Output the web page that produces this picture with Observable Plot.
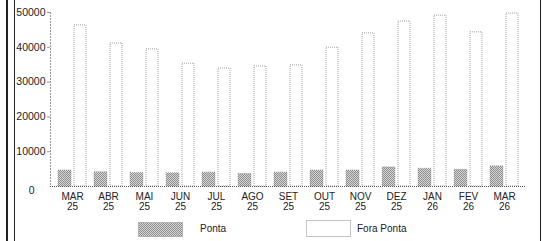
<!DOCTYPE html>
<html><head><meta charset="utf-8">
<script src="https://cdn.jsdelivr.net/npm/d3@7"></script>
<script src="https://cdn.jsdelivr.net/npm/@observablehq/plot@0.6"></script>
<style>
body{margin:0;background:#fff;font-family:"Liberation Sans",Arial,sans-serif;}
#wrap{position:relative;width:543px;height:241px;overflow:hidden;}
#chart{position:absolute;left:0;top:0;}
.edge{position:absolute;top:0;bottom:0;background:#222;}
#legend{position:absolute;left:0;top:215px;width:543px;height:26px;font-size:10px;color:#222;}
#legend .sw{position:absolute;}
#legend .lb{position:absolute;line-height:12px;}
</style></head><body>
<div id="wrap"><div id="chart"></div><div id="legend"></div>
<div class="edge" style="left:6px;width:2px"></div>
<div class="edge" style="left:14px;width:1px"></div>
<div class="edge" style="left:540px;width:1px"></div>
</div>
<script>
const months = ["MAR 25","ABR 25","MAI 25","JUN 25","JUL 25","AGO 25","SET 25","OUT 25","NOV 25","DEZ 25","JAN 26","FEV 26","MAR 26"];
const ponta = [4600, 4100, 3900, 3800, 4000, 3600, 4000, 4600, 4600, 5500, 5100, 4800, 5800];
const foraPonta = [46300, 41100, 39400, 35300, 33900, 34500, 34800, 39900, 44000, 47400, 49100, 44300, 49700];
const yTicks = [10000, 20000, 30000, 40000, 50000];
const seriesNames = ["Ponta", "Fora Ponta"];

const pontaData = months.map((m, i) => ({month: m, value: ponta[i]}));
const foraData = months.map((m, i) => ({month: m, value: foraPonta[i]}));

const svg = Plot.plot({
  width: 543, height: 215,
  marginLeft: 50, marginRight: 18, marginTop: 12, marginBottom: 29,
  style: {fontFamily: '"Liberation Sans", Arial, sans-serif', color: "#222", background: "transparent"},
  x: {type: "band", domain: months, paddingInner: 0.23, paddingOuter: 0.137, label: null},
  y: {domain: [0, 50000], label: null},
  marks: [
    Plot.frame({anchor: "left", stroke: "#999", strokeDasharray: "1,2"}),
    Plot.barY(foraData, {x: "month", y: "value", insetLeft: 16, fill: "#fff", stroke: "#888", strokeWidth: 0.8, strokeDasharray: "1,1"}),
    Plot.barY(pontaData, {x: "month", y: "value", insetRight: 15, fill: "url(#pontaPat)", stroke: "#888", strokeWidth: 0.6, strokeDasharray: "1,1"}),
    Plot.ruleY([0], {stroke: "#555", strokeDasharray: "1,1"}),
    Plot.axisY({ticks: yTicks, tickSize: 3, tickPadding: 2, fontSize: 10.5, stroke: "#999", tickFormat: d => String(d)}),
    Plot.text([0], {y: d => d, frameAnchor: "left", text: d => String(d), dx: -16, dy: 4, textAnchor: "end", fontSize: 10.5, fill: "#222"}),
    Plot.axisX({tickSize: 0, tickPadding: 6, fontSize: 10, lineHeight: 1.0, tickFormat: d => d.replace(" ", "\n")})
  ]
});
const ns = "http://www.w3.org/2000/svg";
const defs = document.createElementNS(ns, "defs");
defs.innerHTML = '<pattern id="pontaPat" width="2" height="2" patternUnits="userSpaceOnUse"><rect width="2" height="2" fill="#d6d6d6"/><rect width="1" height="1" fill="#8e8e8e"/><rect x="1" y="1" width="1" height="1" fill="#8e8e8e"/></pattern>';
svg.prepend(defs);
document.getElementById("chart").appendChild(svg);

const legend = document.getElementById("legend");
const swatch = (left, top, w, h, isPonta) => {
  const s = document.createElementNS(ns, "svg");
  s.setAttribute("width", w); s.setAttribute("height", h);
  s.setAttribute("class", "sw");
  s.style.left = left + "px"; s.style.top = top + "px";
  s.innerHTML = isPonta
    ? '<defs><pattern id="legPat" width="2" height="2" patternUnits="userSpaceOnUse"><rect width="2" height="2" fill="#d6d6d6"/><rect width="1" height="1" fill="#8e8e8e"/><rect x="1" y="1" width="1" height="1" fill="#8e8e8e"/></pattern></defs><rect x="0.5" y="0.5" width="' + (w-1) + '" height="' + (h-1) + '" fill="url(#legPat)" stroke="#888" stroke-dasharray="1,1"/>'
    : '<rect x="0.5" y="0.5" width="' + (w-1) + '" height="' + (h-1) + '" fill="#fff" stroke="#888" stroke-dasharray="1,1"/>';
  legend.appendChild(s);
};
const label = (left, top, text) => {
  const d = document.createElement("div");
  d.className = "lb"; d.style.left = left + "px"; d.style.top = top + "px";
  d.textContent = text; legend.appendChild(d);
};
swatch(138, 7, 45, 15, true);
label(200, 8, seriesNames[0]);
swatch(306, 5, 45, 17, false);
label(357, 8, seriesNames[1]);
</script>
</body></html>
